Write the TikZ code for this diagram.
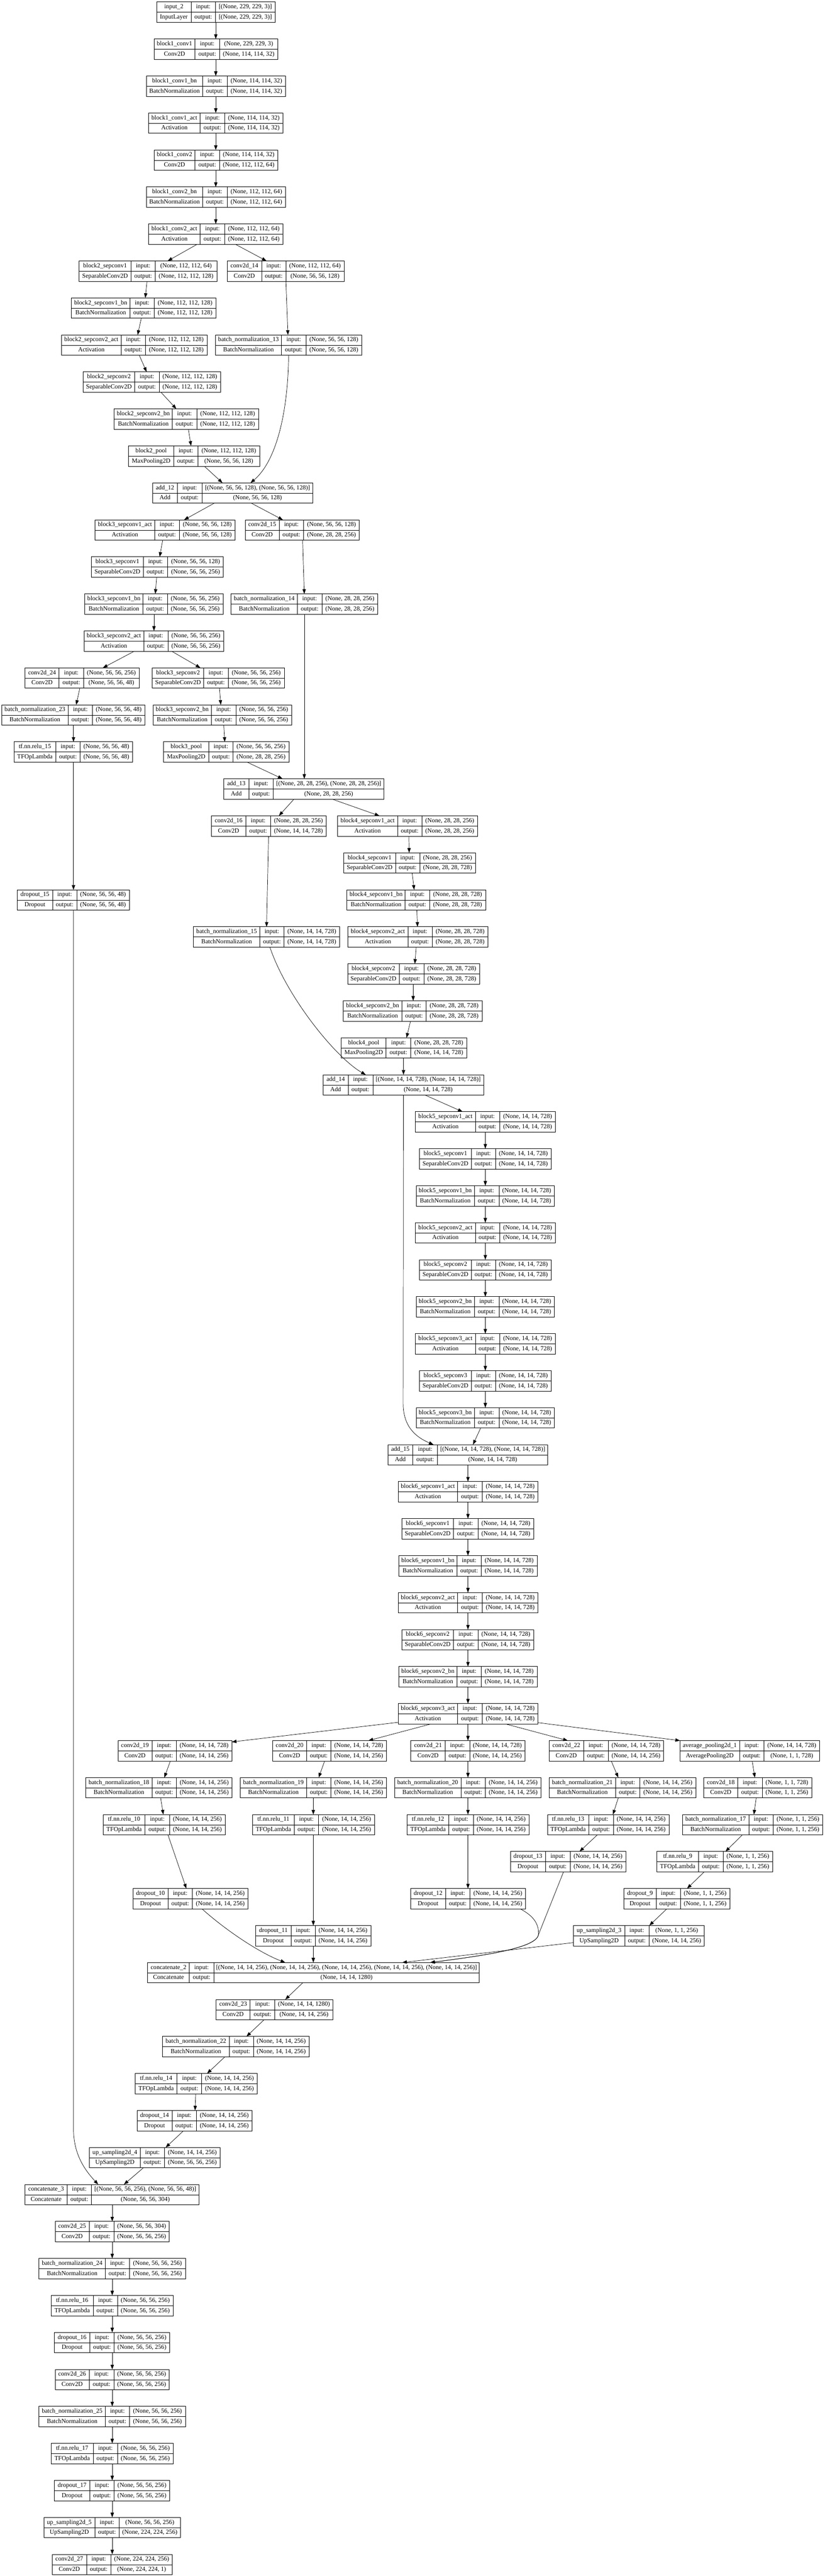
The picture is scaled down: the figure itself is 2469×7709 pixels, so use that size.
\documentclass[tikz,border=0pt]{standalone}
\usepackage{fontspec}
\setmainfont{Liberation Serif}
\usetikzlibrary{arrows.meta,calc}
\tikzset{
  box/.style={draw=black, line width=1.3pt, inner sep=0pt, outer sep=0pt, minimum height=61pt, rectangle},
  cell/.style={line width=1pt},
  lbl/.style={inner sep=0pt, text height=13.5pt, text depth=4.5pt, font=\fontsize{18.67}{22}\selectfont},
  arr/.style={line width=1.1pt, -{Triangle[length=14pt,width=10pt]}},
}
\def\splitfour#1,#2,#3,#4\relax{\def\xL{#1}\def\dA{#2}\def\dB{#3}\def\xR{#4}}
\newcommand\lay[7]{%
  \splitfour#2\relax
  \pgfmathsetmacro\yT{6+110.7*#3}%
  \pgfmathsetmacro\yM{\yT+30.5}%
  \pgfmathsetmacro\yB{\yT+61}%
  \pgfmathsetmacro\wB{\xR-\xL}%
  \pgfmathsetmacro\xC{(\xL+\xR)/2}%
  \pgfmathsetmacro\yU{\yT+15.25}%
  \pgfmathsetmacro\yD{\yT+45.75}%
  \pgfmathsetmacro\cA{(\xL+\dA)/2}%
  \pgfmathsetmacro\cB{(\dA+\dB)/2}%
  \pgfmathsetmacro\cC{(\dB+\xR)/2}%
  \node[box, minimum width=\wB pt] (#1) at (\xC,\yM) {};
  \draw[cell] (\dA,\yT) -- (\dA,\yB) (\dB,\yT) -- (\dB,\yB) (\xL,\yM) -- (\xR,\yM);
  \node[lbl] (#1-n) at (\cA,\yU) {#4};
  \node[lbl] (#1-k) at (\cA,\yD) {#5};
  \node[lbl] (#1-i) at (\cB,\yU) {input:};
  \node[lbl] (#1-o) at (\cB,\yD) {output:};
  \node[lbl] (#1-a) at (\cC,\yU) {#6};
  \node[lbl] (#1-b) at (\cC,\yD) {#7};
}
\newcommand\ed[4]{\draw[arr] let \p1=(#1.south), \p2=(#3.north) in (#2,\y1) -- (#4,\y2);}
\def\Sa{(None, 14, 14, 728)}
\def\Sb{(None, 14, 14, 256)}
\def\Sc{(None, 56, 56, 256)}
\begin{document}
\begin{tikzpicture}[x=1pt,y=-1pt]
\fill[white] (0,0) rectangle (2469,7709);
\useasboundingbox (0,0) rectangle (2469,7709);
% ---- entry flow ----
\lay{in2}{469,572,645,824}{0}{input\_2}{InputLayer}{[(None, 229, 229, 3)]}{[(None, 229, 229, 3)]}
\lay{b1c1}{461,584,657,832}{1}{block1\_conv1}{Conv2D}{(None, 229, 229, 3)}{(None, 114, 114, 32)}
\lay{b1c1bn}{438,607,680,855}{2}{block1\_conv1\_bn}{BatchNormalization}{(None, 114, 114, 32)}{(None, 114, 114, 32)}
\lay{b1c1a}{445,599,673,847}{3}{block1\_conv1\_act}{Activation}{(None, 114, 114, 32)}{(None, 114, 114, 32)}
\lay{b1c2}{461,584,657,832}{4}{block1\_conv2}{Conv2D}{(None, 114, 114, 32)}{(None, 112, 112, 64)}
\lay{b1c2bn}{438,607,680,855}{5}{block1\_conv2\_bn}{BatchNormalization}{(None, 112, 112, 64)}{(None, 112, 112, 64)}
\lay{b1c2a}{445,599,673,847}{6}{block1\_conv2\_act}{Activation}{(None, 112, 112, 64)}{(None, 112, 112, 64)}
\lay{b2s1}{237,392,465,649}{7}{block2\_sepconv1}{SeparableConv2D}{(None, 112, 112, 64)}{(None, 112, 112, 128)}
\lay{c14}{680,783,856,1030}{7}{conv2d\_14}{Conv2D}{(None, 112, 112, 64)}{(None, 56, 56, 128)}
\lay{b2s1bn}{214,389,462,646}{8}{block2\_sepconv1\_bn}{BatchNormalization}{(None, 112, 112, 128)}{(None, 112, 112, 128)}
\lay{b2s2a}{184,363,436,620}{9}{block2\_sepconv2\_act}{Activation}{(None, 112, 112, 128)}{(None, 112, 112, 128)}
\lay{bn13}{645,843,916,1083}{9}{batch\_normalization\_13}{BatchNormalization}{(None, 56, 56, 128)}{(None, 56, 56, 128)}
\lay{b2s2}{249,403,477,660}{10}{block2\_sepconv2}{SeparableConv2D}{(None, 112, 112, 128)}{(None, 112, 112, 128)}
\lay{b2s2bn}{342,516,589,774}{11}{block2\_sepconv2\_bn}{BatchNormalization}{(None, 112, 112, 128)}{(None, 112, 112, 128)}
\lay{b2p}{385,520,593,777}{12}{block2\_pool}{MaxPooling2D}{(None, 112, 112, 128)}{(None, 56, 56, 128)}
\lay{add12}{457,531,605,937}{13}{add\_12}{Add}{[(None, 56, 56, 128), (None, 56, 56, 128)]}{(None, 56, 56, 128)}
\lay{b3s1a}{285,463,537,704}{14}{block3\_sepconv1\_act}{Activation}{(None, 56, 56, 128)}{(None, 56, 56, 128)}
\lay{c15}{734,836,909,1076}{14}{conv2d\_15}{Conv2D}{(None, 56, 56, 128)}{(None, 28, 28, 256)}
\lay{b3s1}{274,429,502,669}{15}{block3\_sepconv1}{SeparableConv2D}{(None, 56, 56, 128)}{(None, 56, 56, 256)}
\lay{b3s1bn}{254,428,501,668}{16}{block3\_sepconv1\_bn}{BatchNormalization}{(None, 56, 56, 256)}{(None, 56, 56, 256)}
\lay{bn14}{692,890,964,1131}{16}{batch\_normalization\_14}{BatchNormalization}{(None, 28, 28, 256)}{(None, 28, 28, 256)}
\lay{b3s2a}{252,430,503,670}{17}{block3\_sepconv2\_act}{Activation}{(None, 56, 56, 256)}{(None, 56, 56, 256)}
\lay{c24}{75,177,250,417}{18}{conv2d\_24}{Conv2D}{(None, 56, 56, 256)}{(None, 56, 56, 48)}
\lay{b3s2}{456,610,683,851}{18}{block3\_sepconv2}{SeparableConv2D}{(None, 56, 56, 256)}{(None, 56, 56, 256)}
\lay{bn23}{5,204,277,434}{19}{batch\_normalization\_23}{BatchNormalization}{(None, 56, 56, 48)}{(None, 56, 56, 48)}
\lay{b3s2bn}{458,633,706,873}{19}{block3\_sepconv2\_bn}{BatchNormalization}{(None, 56, 56, 256)}{(None, 56, 56, 256)}
\lay{relu15}{42,167,240,397}{20}{tf.nn.relu\_15}{TFOpLambda}{(None, 56, 56, 48)}{(None, 56, 56, 48)}
\lay{b3p}{490,625,698,865}{20}{block3\_pool}{MaxPooling2D}{(None, 56, 56, 256)}{(None, 28, 28, 256)}
\lay{add13}{670,745,818,1150}{21}{add\_13}{Add}{[(None, 28, 28, 256), (None, 28, 28, 256)]}{(None, 28, 28, 256)}
\lay{c16}{633,736,810,977}{22}{conv2d\_16}{Conv2D}{(None, 28, 28, 256)}{(None, 14, 14, 728)}
\lay{b4s1a}{1011,1190,1263,1430}{22}{block4\_sepconv1\_act}{Activation}{(None, 28, 28, 256)}{(None, 28, 28, 256)}
\lay{b4s1}{1029,1184,1257,1423}{23}{block4\_sepconv1}{SeparableConv2D}{(None, 28, 28, 256)}{(None, 28, 28, 728)}
\lay{do15}{52,157,230,387}{24}{dropout\_15}{Dropout}{(None, 56, 56, 48)}{(None, 56, 56, 48)}
\lay{b4s1bn}{1039,1213,1286,1454}{24}{block4\_sepconv1\_bn}{BatchNormalization}{(None, 28, 28, 728)}{(None, 28, 28, 728)}
\lay{bn15}{579,778,850,1017}{25}{batch\_normalization\_15}{BatchNormalization}{\Sa}{\Sa}
\lay{b4s2a}{1042,1221,1294,1461}{25}{block4\_sepconv2\_act}{Activation}{(None, 28, 28, 728)}{(None, 28, 28, 728)}
\lay{b4s2}{1041,1195,1269,1436}{26}{block4\_sepconv2}{SeparableConv2D}{(None, 28, 28, 728)}{(None, 28, 28, 728)}
\lay{b4s2bn}{1028,1203,1276,1443}{27}{block4\_sepconv2\_bn}{BatchNormalization}{(None, 28, 28, 728)}{(None, 28, 28, 728)}
\lay{b4p}{1022,1156,1230,1397}{28}{block4\_pool}{MaxPooling2D}{(None, 28, 28, 728)}{\Sa}
\lay{add14}{968,1042,1116,1448}{29}{add\_14}{Add}{[(None, 14, 14, 728), (None, 14, 14, 728)]}{\Sa}
% ---- block 5 ----
\lay{b5s1a}{1244,1423,1496,1663}{30}{block5\_sepconv1\_act}{Activation}{\Sa}{\Sa}
\lay{b5s1}{1256,1411,1484,1650}{31}{block5\_sepconv1}{SeparableConv2D}{\Sa}{\Sa}
\lay{b5s1bn}{1246,1420,1494,1660}{32}{block5\_sepconv1\_bn}{BatchNormalization}{\Sa}{\Sa}
\lay{b5s2a}{1244,1423,1496,1663}{33}{block5\_sepconv2\_act}{Activation}{\Sa}{\Sa}
\lay{b5s2}{1256,1411,1484,1650}{34}{block5\_sepconv2}{SeparableConv2D}{\Sa}{\Sa}
\lay{b5s2bn}{1246,1420,1494,1660}{35}{block5\_sepconv2\_bn}{BatchNormalization}{\Sa}{\Sa}
\lay{b5s3a}{1244,1423,1496,1663}{36}{block5\_sepconv3\_act}{Activation}{\Sa}{\Sa}
\lay{b5s3}{1256,1411,1484,1650}{37}{block5\_sepconv3}{SeparableConv2D}{\Sa}{\Sa}
\lay{b5s3bn}{1246,1420,1494,1660}{38}{block5\_sepconv3\_bn}{BatchNormalization}{\Sa}{\Sa}
\lay{add15}{1161,1236,1310,1640}{39}{add\_15}{Add}{[(None, 14, 14, 728), (None, 14, 14, 728)]}{\Sa}
% ---- block 6 ----
\lay{b6s1a}{1192,1370,1444,1611}{40}{block6\_sepconv1\_act}{Activation}{\Sa}{\Sa}
\lay{b6s1}{1203,1358,1431,1598}{41}{block6\_sepconv1}{SeparableConv2D}{\Sa}{\Sa}
\lay{b6s1bn}{1194,1368,1441,1608}{42}{block6\_sepconv1\_bn}{BatchNormalization}{\Sa}{\Sa}
\lay{b6s2a}{1192,1370,1444,1611}{43}{block6\_sepconv2\_act}{Activation}{\Sa}{\Sa}
\lay{b6s2}{1203,1358,1431,1598}{44}{block6\_sepconv2}{SeparableConv2D}{\Sa}{\Sa}
\lay{b6s2bn}{1194,1368,1441,1608}{45}{block6\_sepconv2\_bn}{BatchNormalization}{\Sa}{\Sa}
\lay{b6s3a}{1192,1370,1444,1611}{46}{block6\_sepconv3\_act}{Activation}{\Sa}{\Sa}
% ---- branches ----
\lay{c19}{353,455,528,694}{47}{conv2d\_19}{Conv2D}{\Sa}{\Sb}
\lay{c20}{816,918,991,1157}{47}{conv2d\_20}{Conv2D}{\Sa}{\Sb}
\lay{c21}{1230,1333,1406,1572}{47}{conv2d\_21}{Conv2D}{\Sa}{\Sb}
\lay{c22}{1644,1747,1821,1987}{47}{conv2d\_22}{Conv2D}{\Sa}{\Sb}
\lay{avg}{2036,2214,2287,2454}{47}{average\_pooling2d\_1}{AveragePooling2D}{\Sa}{(None, 1, 1, 728)}
\lay{bn18}{257,455,528,695}{48}{batch\_normalization\_18}{BatchNormalization}{\Sb}{\Sb}
\lay{bn19}{719,918,991,1157}{48}{batch\_normalization\_19}{BatchNormalization}{\Sb}{\Sb}
\lay{bn20}{1181,1380,1453,1620}{48}{batch\_normalization\_20}{BatchNormalization}{\Sb}{\Sb}
\lay{bn21}{1644,1843,1916,2083}{48}{batch\_normalization\_21}{BatchNormalization}{\Sb}{\Sb}
\lay{c18}{2107,2209,2282,2430}{48}{conv2d\_18}{Conv2D}{(None, 1, 1, 728)}{(None, 1, 1, 256)}
\lay{relu10}{309,434,508,674}{49}{tf.nn.relu\_10}{TFOpLambda}{\Sb}{\Sb}
\lay{relu11}{756,881,954,1121}{49}{tf.nn.relu\_11}{TFOpLambda}{\Sb}{\Sb}
\lay{relu12}{1219,1344,1417,1584}{49}{tf.nn.relu\_12}{TFOpLambda}{\Sb}{\Sb}
\lay{relu13}{1639,1763,1836,2003}{49}{tf.nn.relu\_13}{TFOpLambda}{\Sb}{\Sb}
\lay{bn17}{2043,2242,2315,2463}{49}{batch\_normalization\_17}{BatchNormalization}{(None, 1, 1, 256)}{(None, 1, 1, 256)}
\lay{do13}{1528,1633,1707,1874}{50}{dropout\_13}{Dropout}{\Sb}{\Sb}
\lay{relu9}{1967,2091,2165,2313}{50}{tf.nn.relu\_9}{TFOpLambda}{(None, 1, 1, 256)}{(None, 1, 1, 256)}
\lay{do10}{398,503,576,743}{51}{dropout\_10}{Dropout}{\Sb}{\Sb}
\lay{do12}{1229,1334,1407,1574}{51}{dropout\_12}{Dropout}{\Sb}{\Sb}
\lay{do9}{1868,1964,2037,2185}{51}{dropout\_9}{Dropout}{(None, 1, 1, 256)}{(None, 1, 1, 256)}
\lay{do11}{766,871,944,1110}{52}{dropout\_11}{Dropout}{\Sb}{\Sb}
\lay{up3}{1717,1870,1943,2109}{52}{up\_sampling2d\_3}{UpSampling2D}{(None, 1, 1, 256)}{\Sb}
\lay{cat2}{442,567,640,1435}{53}{concatenate\_2}{Concatenate}{[(None, 14, 14, 256), (None, 14, 14, 256), (None, 14, 14, 256), (None, 14, 14, 256), (None, 14, 14, 256)]}{(None, 14, 14, 1280)}
\lay{c23}{647,749,823,997}{54}{conv2d\_23}{Conv2D}{(None, 14, 14, 1280)}{\Sb}
\lay{bn22}{487,686,759,925}{55}{batch\_normalization\_22}{BatchNormalization}{\Sb}{\Sb}
\lay{relu14}{405,530,604,770}{56}{tf.nn.relu\_14}{TFOpLambda}{\Sb}{\Sb}
\lay{do14}{410,515,588,755}{57}{dropout\_14}{Dropout}{\Sb}{\Sb}
\lay{up4}{268,420,493,659}{58}{up\_sampling2d\_4}{UpSampling2D}{\Sb}{\Sc}
\lay{cat3}{75,201,274,596}{59}{concatenate\_3}{Concatenate}{[(None, 56, 56, 256), (None, 56, 56, 48)]}{(None, 56, 56, 304)}
\lay{c25}{165,267,341,507}{60}{conv2d\_25}{Conv2D}{(None, 56, 56, 304)}{\Sc}
\lay{bn24}{117,315,388,555}{61}{batch\_normalization\_24}{BatchNormalization}{\Sc}{\Sc}
\lay{relu16}{153,279,352,518}{62}{tf.nn.relu\_16}{TFOpLambda}{\Sc}{\Sc}
\lay{do16}{163,269,342,508}{63}{dropout\_16}{Dropout}{\Sc}{\Sc}
\lay{c26}{165,267,341,507}{64}{conv2d\_26}{Conv2D}{\Sc}{\Sc}
\lay{bn25}{117,315,388,555}{65}{batch\_normalization\_25}{BatchNormalization}{\Sc}{\Sc}
\lay{relu17}{153,279,352,518}{66}{tf.nn.relu\_17}{TFOpLambda}{\Sc}{\Sc}
\lay{do17}{163,269,342,508}{67}{dropout\_17}{Dropout}{\Sc}{\Sc}
\lay{up5}{131,284,357,540}{68}{up\_sampling2d\_5}{UpSampling2D}{\Sc}{(None, 224, 224, 256)}
\lay{c27}{156,259,332,516}{69}{conv2d\_27}{Conv2D}{(None, 224, 224, 256)}{(None, 224, 224, 1)}
% ---- edges ----
\ed{in2}{646}{b1c1}{646}
\ed{b1c1}{646}{b1c1bn}{646}
\ed{b1c1bn}{646}{b1c1a}{646}
\ed{b1c1a}{646}{b1c2}{646}
\ed{b1c2}{646}{b1c2bn}{646}
\ed{b1c2bn}{646}{b1c2a}{646}
\ed{b1c2a}{590}{b2s1}{502}
\ed{b1c2a}{705}{c14}{798}
\ed{b2s1}{440}{b2s1bn}{435}
\ed{b2s1bn}{423}{b2s2a}{412}
\ed{b2s2a}{417}{b2s2}{439}
\ed{b2s2}{482}{b2s2bn}{528}
\ed{b2s2bn}{564}{b2p}{572}
\ed{b2p}{612}{add12}{666}
\ed{c14}{856}{bn13}{862}
\draw[arr] let \p1=(bn13.south), \p2=(add12.north) in (864,\y1) .. controls (862,1250) and (822,1385) .. (750,\y2);
\ed{add12}{641}{b3s1a}{551}
\ed{add12}{753}{c15}{847}
\ed{b3s1a}{487}{b3s1}{478}
\ed{b3s1}{469}{b3s1bn}{465}
\ed{b3s1bn}{461}{b3s2a}{461}
\ed{c15}{906}{bn14}{911}
\ed{bn14}{911}{add13}{911}
\ed{b3s2a}{402}{c24}{308}
\ed{b3s2a}{514}{b3s2}{600}
\ed{c24}{239}{bn23}{228}
\ed{b3s2}{657}{b3s2bn}{661}
\ed{bn23}{220}{relu15}{220}
\ed{relu15}{220}{do15}{220}
\ed{b3s2bn}{670}{b3p}{673}
\ed{b3p}{740}{add13}{846}
\ed{add13}{880}{c16}{835}
\ed{add13}{995}{b4s1a}{1136}
\ed{c16}{804}{bn15}{798}
\draw[arr] let \p1=(bn15.south), \p2=(add14.north) in (808,\y1) .. controls (858,2983) and (1005,3165) .. (1095,\y2);
\ed{b4s1a}{1224}{b4s1}{1225}
\ed{b4s1}{1234}{b4s1bn}{1240}
\ed{b4s1bn}{1248}{b4s2a}{1250}
\ed{b4s2a}{1246}{b4s2}{1242}
\ed{b4s2}{1237}{b4s2bn}{1237}
\ed{b4s2bn}{1229}{b4p}{1217}
\ed{b4p}{1208}{add14}{1208}
\ed{add14}{1273}{b5s1a}{1385}
\draw[arr] let \p1=(add14.south), \p2=(add15.north) in (1208,\y1) -- (1207,4200) .. controls (1207,4272) and (1248,4302) .. (1298,\y2);
\ed{b5s1a}{1453}{b5s1}{1453}
\ed{b5s1}{1453}{b5s1bn}{1453}
\ed{b5s1bn}{1453}{b5s2a}{1453}
\ed{b5s2a}{1453}{b5s2}{1453}
\ed{b5s2}{1453}{b5s2bn}{1453}
\ed{b5s2bn}{1453}{b5s3a}{1453}
\ed{b5s3a}{1453}{b5s3}{1453}
\ed{b5s3}{1453}{b5s3bn}{1453}
\ed{b5s3bn}{1439}{add15}{1416}
\ed{add15}{1401}{b6s1a}{1401}
\ed{b6s1a}{1401}{b6s1}{1401}
\ed{b6s1}{1401}{b6s1bn}{1401}
\ed{b6s1bn}{1401}{b6s2a}{1401}
\ed{b6s2a}{1401}{b6s2}{1401}
\ed{b6s2}{1401}{b6s2bn}{1401}
\ed{b6s2bn}{1401}{b6s3a}{1401}
\draw[arr] let \p1=(b6s3a.south west), \p2=(c19.north east) in (\x1,\y1+5pt) -- (\x2,\y2-4pt);
\ed{b6s3a}{1290}{c20}{1103}
\ed{b6s3a}{1401}{c21}{1401}
\ed{b6s3a}{1514}{c22}{1700}
\draw[arr] let \p1=(b6s3a.south east), \p2=(avg.north west) in (\x1,\y1+4pt) -- (\x2,\y2);
\ed{c19}{510}{bn18}{492}
\ed{c20}{972}{bn19}{954}
\ed{c21}{1401}{bn20}{1401}
\ed{c22}{1830}{bn21}{1851}
\ed{avg}{2252}{c18}{2260}
\ed{bn18}{481}{relu10}{489}
\ed{bn19}{938}{relu11}{938}
\ed{bn20}{1401}{relu12}{1401}
\ed{bn21}{1851}{relu13}{1835}
\ed{c18}{2264}{bn17}{2257}
\ed{relu10}{503}{do10}{558}
\ed{relu11}{938}{do11}{938}
\ed{relu12}{1401}{do12}{1401}
\ed{relu13}{1788}{do13}{1735}
\ed{bn17}{2222}{relu9}{2172}
\ed{relu9}{2108}{do9}{2057}
\ed{do9}{1996}{up3}{1944}
\draw[arr] let \p1=(do10.south), \p2=(cat2.north) in (605,\y1) .. controls (680,5780) and (780,5845) .. (854,\y2);
\ed{do11}{938}{cat2}{938}
\draw[arr] let \p1=(do12.south), \p2=(cat2.north) in (1558,\y1) .. controls (1600,5735) and (1614,5760) .. (1612,5790) .. controls (1605,5830) and (1450,5852) .. (1288,\y2);
\draw[arr] let \p1=(do13.south), \p2=(cat2.north) in (1687,\y1) -- (1612,5790) .. controls (1605,5830) and (1450,5852) .. (1288,\y2);
\draw[arr] let \p1=(up3.south west), \p2=(cat2.north) in (\x1,\y1+10pt) -- (1204,\y2);
\ed{cat2}{906}{c23}{854}
\ed{c23}{790}{bn22}{738}
\ed{bn22}{673}{relu14}{620}
\ed{relu14}{586}{do14}{584}
\ed{do14}{549}{up4}{496}
\ed{up4}{429}{cat3}{371}
\draw[arr] let \p1=(do15.south), \p2=(cat3.north) in (220,\y1) -- (220,6370) .. controls (220,6445) and (252,6492) .. (294,\y2);
\ed{cat3}{336}{c25}{336}
\ed{c25}{336}{bn24}{336}
\ed{bn24}{336}{relu16}{336}
\ed{relu16}{336}{do16}{336}
\ed{do16}{336}{c26}{336}
\ed{c26}{336}{bn25}{336}
\ed{bn25}{336}{relu17}{336}
\ed{relu17}{336}{do17}{336}
\ed{do17}{336}{up5}{336}
\ed{up5}{336}{c27}{336}
\end{tikzpicture}
\end{document}
